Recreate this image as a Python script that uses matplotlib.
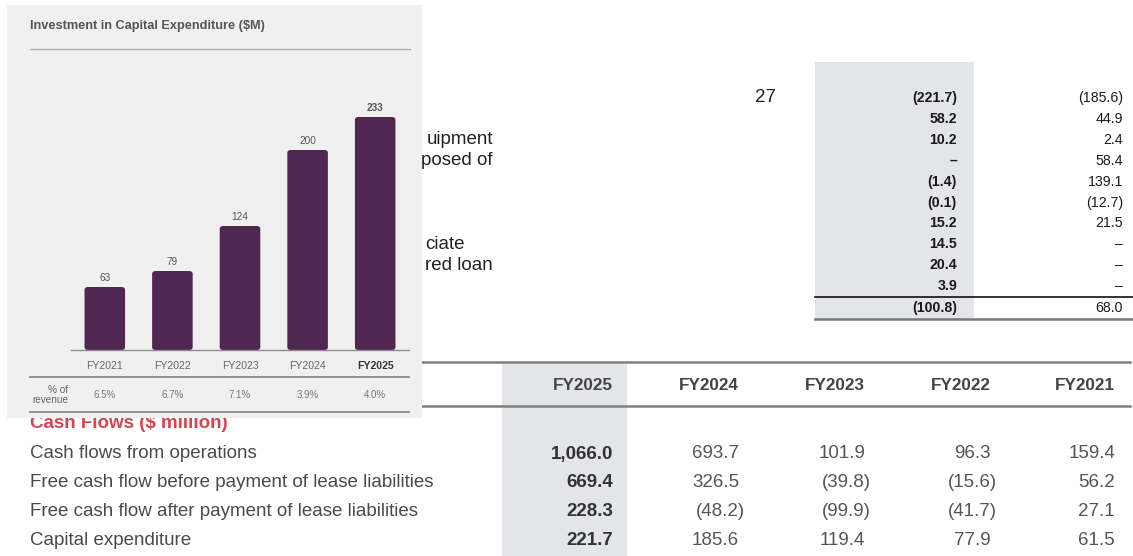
import matplotlib
matplotlib.use("Agg")
import matplotlib.pyplot as plt
from matplotlib import font_manager
from matplotlib.patches import Rectangle, FancyBboxPatch

# %% data
capex_years = ['FY2021', 'FY2022', 'FY2023', 'FY2024', 'FY2025']
capex_values = [63, 79, 124, 200, 233]
capex_pct = ['6.5%', '6.7%', '7.1%', '3.9%', '4.0%']

# upper (partly hidden) cash flow table
upper_labels = ['', '', 'uipment', 'posed of', '', '', '', 'ciate', 'red loan', '']
upper_fy2025 = [-221.7, 58.2, 10.2, None, -1.4, -0.1, 15.2, 14.5, 20.4, 3.9]
upper_fy2024 = [-185.6, 44.9, 2.4, 58.4, 139.1, -12.7, 21.5, None, None, None]
upper_total = [-100.8, 68.0]
upper_note = '27'

# lower five-year table
table_years = ['FY2025', 'FY2024', 'FY2023', 'FY2022', 'FY2021']
table_title = 'Cash Flows ($ million)'
table_labels = ['Cash flows from operations',
                'Free cash flow before payment of lease liabilities',
                'Free cash flow after payment of lease liabilities',
                'Capital expenditure']
cash_ops = [1066.0, 693.7, 101.9, 96.3, 159.4]
fcf_before = [669.4, 326.5, -39.8, -15.6, 56.2]
fcf_after = [228.3, -48.2, -99.9, -41.7, 27.1]
capex_row = [221.7, 185.6, 119.4, 77.9, 61.5]


def fmt(v):
    if v is None:
        return '–'
    if v < 0:
        return '({:,.1f})'.format(-v)
    return '{:,.1f}'.format(v)


installed = {f.name for f in font_manager.fontManager.ttflist}
base_font = 'Liberation Sans' if 'Liberation Sans' in installed else 'DejaVu Sans'
if 'Liberation Sans Narrow' in installed:
    narrow_font, narrow_size = 'Liberation Sans Narrow', 10.8
else:
    narrow_font, narrow_size = base_font, 10.2
plt.rcParams['font.family'] = base_font

W, H = 1133, 556
fig = plt.figure(figsize=(W / 100, H / 100), dpi=100)
fig.patch.set_facecolor('white')
ax = fig.add_axes([0, 0, 1, 1])
ax.set_xlim(0, W)
ax.set_ylim(H, 0)
ax.axis('off')
ax.set_zorder(1)

shade = '#e3e5e8'

# %% upper table
row_y = [98 + 20.9 * i for i in range(len(upper_fy2025))]
ax.add_patch(Rectangle((815, 62), 159, 258, color=shade, zorder=1, lw=0))
ax.text(765, row_y[0], upper_note, fontsize=13.5, color='#222222', ha='center', va='center', zorder=2)
for y, lab, a, b in zip(row_y, upper_labels, upper_fy2025, upper_fy2024):
    if lab:
        ax.text(493 if len(lab) > 6 else 465, y, lab, fontsize=13.5, color='#222222',
                ha='right', va='center', zorder=2)
    ax.text(957, y, fmt(a), fontsize=narrow_size, family=narrow_font, fontweight='bold',
            color='#1a1a1a', ha='right', va='center', zorder=2)
    ax.text(1123, y, fmt(b), fontsize=narrow_size, family=narrow_font,
            color='#1a1a1a', ha='right', va='center', zorder=2)
ax.plot([815, 1133], [297, 297], color='#111111', lw=1.2, zorder=2)
ax.text(957, 308, fmt(upper_total[0]), fontsize=narrow_size, family=narrow_font, fontweight='bold',
        color='#1a1a1a', ha='right', va='center', zorder=2)
ax.text(1123, 308, fmt(upper_total[1]), fontsize=narrow_size, family=narrow_font,
        color='#1a1a1a', ha='right', va='center', zorder=2)
ax.plot([815, 1133], [319, 319], color='#777777', lw=1.8, zorder=2)

# %% lower table
col_right = [613, 739, 865, 991, 1115]
ax.add_patch(Rectangle((502, 363), 125, H - 363, color=shade, zorder=1, lw=0))
ax.plot([400, 1130], [362, 362], color='#808080', lw=1.8, zorder=2)
ax.plot([400, 1130], [406, 406], color='#808080', lw=1.8, zorder=2)
for x, yr in zip(col_right, table_years):
    ax.text(x, 385, yr, fontsize=12.3, fontweight='bold', color='#444444',
            ha='right', va='center', zorder=2)

ax.text(30, 423, table_title, fontsize=13.5, fontweight='bold', color='#d9434f',
        ha='left', va='center', zorder=2)
rows = [cash_ops, fcf_before, fcf_after, capex_row]
for i, (lab, vals) in enumerate(zip(table_labels, rows)):
    y = 454 + 28.7 * i
    ax.text(30, y, lab, fontsize=13.5, color='#4a4a4a', ha='left', va='center', zorder=2)
    for j, (x, v) in enumerate(zip(col_right, vals)):
        xx = x + 6 if v < 0 else x
        ax.text(xx, y, fmt(v), fontsize=13.5, color='#333333' if j == 0 else '#555555',
                fontweight='bold' if j == 0 else 'normal', ha='right', va='center', zorder=2)

# %% chart panel on top
ax.add_patch(Rectangle((7, 5), 415, 413, color='#f0f0f0', lw=0, zorder=5))
ax.text(30, 26, 'Investment in Capital Expenditure ($M)', fontsize=9.2, fontweight='bold',
        color='#555555', ha='left', va='center', zorder=6)
ax.plot([30, 410], [49, 49], color='#b0b0b0', lw=1.0, zorder=6)
ax.plot([30, 409], [377, 377], color='#8a8a8a', lw=1.3, zorder=6)
ax.plot([30, 409], [412, 412], color='#8a8a8a', lw=1.3, zorder=6)
ax.text(68, 390, '% of', fontsize=7.2, color='#666666', ha='right', va='center', zorder=6)
ax.text(68, 400, 'revenue', fontsize=7.2, color='#666666', ha='right', va='center', zorder=6)

bx = fig.add_axes([71 / W, (H - 350) / H, 338 / W, 251 / H])
bx.set_zorder(2)
bx.patch.set_visible(False)
xpos = list(range(len(capex_values)))
bars = bx.bar(xpos, capex_values, width=0.6, color='#4f2750')
bx.set_xlim(-0.5, 4.5)
bx.set_ylim(0, 251)
px_x = 338 / 5.0
px_y = 251 / 251.0
for r in bars:
    r.set_visible(False)
    bx.add_patch(FancyBboxPatch((r.get_x(), 0), r.get_width(), r.get_height(),
                                boxstyle='round,pad=0,rounding_size=0.05',
                                mutation_aspect=px_x / px_y * 0.9,
                                color='#4f2750', lw=0))
for i, v in enumerate(capex_values):
    bx.text(i, v + 9, str(v), fontsize=7.2, color='#555555', ha='center', va='center',
            fontweight='bold' if i == len(capex_values) - 1 else 'normal')
for s in ['top', 'right', 'left']:
    bx.spines[s].set_visible(False)
bx.spines['bottom'].set_color('#8a8a8a')
bx.spines['bottom'].set_linewidth(1.0)
bx.set_yticks([])
bx.set_xticks(xpos)
bx.set_xticklabels(capex_years, fontsize=7.6, color='#666666')
bx.tick_params(axis='x', length=0, pad=8)
bx.get_xticklabels()[-1].set_fontweight('bold')
bx.get_xticklabels()[-1].set_color('#333333')
for i, p in enumerate(capex_pct):
    ax.text(104.8 + 67.6 * i, 395, p, fontsize=7, color='#777777', ha='center', va='center', zorder=6)

fig.savefig('out.png', dpi=100, facecolor='white')
